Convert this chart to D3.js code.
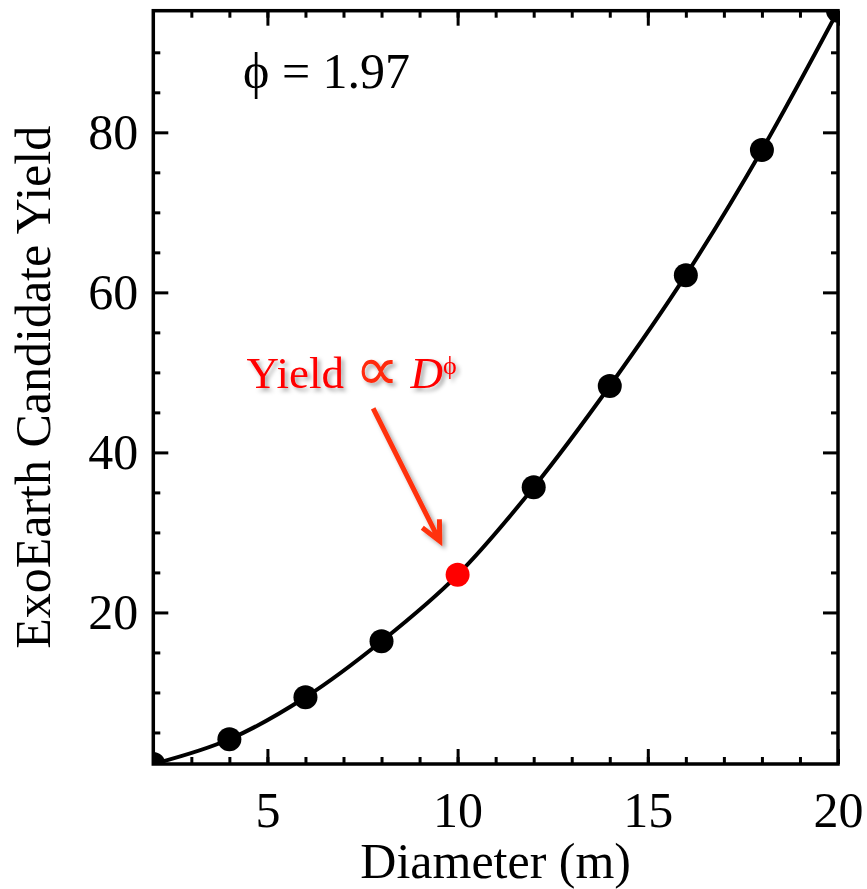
<!DOCTYPE html>
<html>
<head>
<meta charset="utf-8">
<script src="https://cdn.jsdelivr.net/npm/d3@7"></script>
<style>
  body { margin: 0; background: #fff; }
  text { font-family: "Liberation Serif", "Times New Roman", serif; }
</style>
</head>
<body>
<svg id="chart" width="867" height="889"></svg>
<script>
// telescope diameter (m) and exoEarth yield
var diam = [2, 4, 6, 8, 10, 12, 14, 16, 18, 20];
var yields = [1.06, 4.15, 9.4, 16.4, 24.7, 35.65, 48.3, 62.15, 77.8, 95.2];
var highlightD = 10;

var xMajor = [5, 10, 15, 20];
var xMinor = d3.range(3, 20);
var yMajor = [20, 40, 60, 80];
var yMinor = [5, 10, 15, 25, 30, 35, 45, 50, 55, 65, 70, 75, 85, 90];

var phiText = "\u03D5 = 1.97";

var svg = d3.select("#chart"),
    width = +svg.attr("width"),
    height = +svg.attr("height");

var margin = {top: 10.7, right: 29, bottom: 125, left: 153.3};
var pw = width - margin.left - margin.right,
    ph = height - margin.top - margin.bottom;

var x = d3.scaleLinear().domain([2, 20]).range([0, pw]);
var y = d3.scaleLinear().domain(d3.extent(yields)).range([ph, 0]);

var defs = svg.append("defs");
defs.append("clipPath").attr("id", "plotclip")
    .append("rect").attr("width", pw).attr("height", ph);
defs.append("filter").attr("id", "shadow")
    .attr("x", "-20%").attr("y", "-20%").attr("width", "140%").attr("height", "140%")
    .append("feDropShadow")
    .attr("dx", 3).attr("dy", 3).attr("stdDeviation", 2)
    .attr("flood-color", "#000").attr("flood-opacity", 0.35);

var g = svg.append("g").attr("transform", `translate(${margin.left},${margin.top})`);

var data = diam.map((d, i) => ({d: d, y: yields[i]}));

// curve + markers, clipped to the frame
var plot = g.append("g").attr("clip-path", "url(#plotclip)");
plot.append("path")
    .datum(data)
    .attr("fill", "none")
    .attr("stroke", "#000")
    .attr("stroke-width", 4)
    .attr("d", d3.line().x(d => x(d.d)).y(d => y(d.y)).curve(d3.curveMonotoneX));

plot.selectAll("circle")
    .data(data)
    .enter().append("circle")
    .attr("cx", d => x(d.d))
    .attr("cy", d => y(d.y))
    .attr("r", 12)
    .attr("fill", d => d.d == highlightD ? "#ff0000" : "#000");

// axes: ticks point inward on all four sides
function styleAxis(sel) {
    sel.select(".domain").remove();
    sel.selectAll("line").attr("stroke", "#000").attr("stroke-width", 3);
    sel.selectAll("text").attr("font-size", 50).attr("fill", "#000")
        .attr("font-family", "'Liberation Serif', 'Times New Roman', serif");
}

g.append("g").attr("transform", `translate(0,${ph})`)
    .call(d3.axisBottom(x).tickValues(xMajor).tickFormat(d3.format("d"))
        .tickSizeInner(-15).tickSizeOuter(0).tickPadding(27))
    .call(styleAxis);
g.append("g").attr("transform", `translate(0,${ph})`)
    .call(d3.axisBottom(x).tickValues(xMinor).tickFormat("").tickSizeInner(-7).tickSizeOuter(0))
    .call(styleAxis);
g.append("g")
    .call(d3.axisTop(x).tickValues(xMajor).tickFormat("").tickSizeInner(-15).tickSizeOuter(0))
    .call(styleAxis);
g.append("g")
    .call(d3.axisTop(x).tickValues(xMinor).tickFormat("").tickSizeInner(-7).tickSizeOuter(0))
    .call(styleAxis);

g.append("g")
    .call(d3.axisLeft(y).tickValues(yMajor).tickFormat(d3.format("d"))
        .tickSizeInner(-15).tickSizeOuter(0).tickPadding(15))
    .call(styleAxis);
g.append("g")
    .call(d3.axisLeft(y).tickValues(yMinor).tickFormat("").tickSizeInner(-7).tickSizeOuter(0))
    .call(styleAxis);
g.append("g").attr("transform", `translate(${pw},0)`)
    .call(d3.axisRight(y).tickValues(yMajor).tickFormat("").tickSizeInner(-15).tickSizeOuter(0))
    .call(styleAxis);
g.append("g").attr("transform", `translate(${pw},0)`)
    .call(d3.axisRight(y).tickValues(yMinor).tickFormat("").tickSizeInner(-7).tickSizeOuter(0))
    .call(styleAxis);

// frame
g.append("rect")
    .attr("width", pw).attr("height", ph)
    .attr("fill", "none").attr("stroke", "#000").attr("stroke-width", 3.5);

// axis titles
svg.append("text")
    .attr("x", margin.left + pw / 2)
    .attr("y", 878)
    .attr("text-anchor", "middle")
    .attr("font-size", 50)
    .text("Diameter (m)");

svg.append("text")
    .attr("transform", `translate(50,${margin.top + ph / 2}) rotate(-90)`)
    .attr("text-anchor", "middle")
    .attr("font-size", 50)
    .text("ExoEarth Candidate Yield");

// phi label
g.append("text")
    .attr("x", x(4.36))
    .attr("y", y(85.5))
    .attr("font-size", 50)
    .text(phiText);

// red annotation with arrow
var ann = g.append("g").attr("filter", "url(#shadow)");
var lab = ann.append("text")
    .attr("x", x(4.45))
    .attr("y", y(48.0))
    .attr("font-size", 45)
    .attr("fill", "#ff0000");
lab.append("tspan").text("Yield ");
lab.append("tspan").attr("font-size", 62).attr("fill", "#ff2a10").attr("dy", 2).text("\u221D");
lab.append("tspan").attr("dy", -2).text(" ");
lab.append("tspan").attr("font-style", "italic").text("D");
lab.append("tspan").attr("font-size", 26).attr("dy", -14).text("\u03D5");

var a0 = [x(7.78), y(45.5)], a1 = [x(9.53), y(28.9)];
var ang = Math.atan2(a1[1] - a0[1], a1[0] - a0[0]);
var hl = 22, hs = 0.45;
var arrowPath = d3.path();
arrowPath.moveTo(a0[0], a0[1]);
arrowPath.lineTo(a1[0], a1[1]);
arrowPath.moveTo(a1[0] - hl * Math.cos(ang - hs), a1[1] - hl * Math.sin(ang - hs));
arrowPath.lineTo(a1[0], a1[1]);
arrowPath.lineTo(a1[0] - hl * Math.cos(ang + hs), a1[1] - hl * Math.sin(ang + hs));
ann.append("path")
    .attr("d", arrowPath.toString())
    .attr("fill", "none")
    .attr("stroke", "#ff3311")
    .attr("stroke-width", 5)
    .attr("stroke-linejoin", "miter");
</script>
</body>
</html>
